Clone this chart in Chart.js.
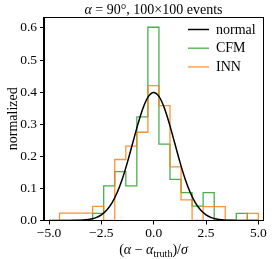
<!DOCTYPE html>
<html><head><meta charset="utf-8">
<script src="https://cdn.jsdelivr.net/npm/chart.js@4/dist/chart.umd.min.js"></script>
<style>html,body{margin:0;padding:0;background:#fff}canvas{display:block}</style>
</head><body>
<canvas id="c" width="274" height="259"></canvas>
<script>
// ---- data ----
const binEdges = [-4.5, -3.972, -3.444, -2.917, -2.389, -1.861, -1.333, -0.806, -0.278, 0.25, 0.778, 1.306, 1.833, 2.361, 2.889, 3.417, 3.944, 4.472, 5.0];
const cfmDensity = [0, 0, 0, 0.022, 0.108, 0.152, 0.108, 0.323, 0.602, 0.238, 0.128, 0.087, 0.045, 0.087, 0, 0, 0.022, 0];
const innDensity = [0.023, 0.023, 0.023, 0.044, 0, 0.190, 0.232, 0.275, 0.420, 0.358, 0.167, 0.064, 0, 0.043, 0.043, 0, 0, 0.022];
const normalX = [-5, -4.75, -4.5, -4.25, -4, -3.75, -3.5, -3.25, -3, -2.75, -2.5, -2.25, -2, -1.75, -1.5, -1.25, -1, -0.75, -0.5, -0.25, 0, 0.25, 0.5, 0.75, 1, 1.25, 1.5, 1.75, 2, 2.25, 2.5, 2.75, 3, 3.25, 3.5, 3.75, 4, 4.25, 4.5, 4.75, 5];
const normalY = [0, 0, 0, 0, 0.0001, 0.0004, 0.0009, 0.0020, 0.0044, 0.0091, 0.0175, 0.0317, 0.0540, 0.0863, 0.1295, 0.1826, 0.2420, 0.3011, 0.3521, 0.3867, 0.3989, 0.3867, 0.3521, 0.3011, 0.2420, 0.1826, 0.1295, 0.0863, 0.0540, 0.0317, 0.0175, 0.0091, 0.0044, 0.0020, 0.0009, 0.0004, 0.0001, 0, 0, 0, 0];
const xTicks = [-5, -2.5, 0, 2.5, 5];
const yTicks = [0, 0.1, 0.2, 0.3, 0.4, 0.5, 0.6];
const seriesLabels = ['normal', 'CFM', 'INN'];

// ---- styles ----
const FONT = "'Liberation Serif','DejaVu Serif',serif";
const FS = 14;      // titles / legend
const TFS = 13.5;   // tick labels
const COLORS = { normal: '#000000', CFM: 'rgba(44,160,44,0.85)', INN: 'rgba(255,127,14,0.85)' };

function histPoints(vals) {
  const pts = [{ x: binEdges[0], y: 0 }];
  vals.forEach((v, i) => pts.push({ x: binEdges[i + 1], y: v }));
  pts.push({ x: binEdges[binEdges.length - 1], y: 0 });
  return pts;
}
function fmt(v) { return (v < 0 ? '\u2212' : '') + Math.abs(v).toFixed(1); }

function drawRich(ctx, segs, x, y, size) {
  const fontFor = (s) => (s.it ? 'italic ' : '') + (s.sub ? size * 0.72 : size) + 'px ' + FONT;
  let total = 0;
  segs.forEach(s => { ctx.font = fontFor(s); total += ctx.measureText(s.t).width; });
  let cx = x - total / 2;
  ctx.textBaseline = 'alphabetic';
  ctx.textAlign = 'left';
  segs.forEach(s => {
    ctx.font = fontFor(s);
    ctx.fillText(s.t, cx, y + (s.sub ? size * 0.22 : 0));
    cx += ctx.measureText(s.t).width;
  });
}

const decorPlugin = {
  id: 'decor',
  afterDraw(chart) {
    const ctx = chart.ctx;
    const a = chart.chartArea;
    ctx.save();
    // frame (all four spines)
    ctx.strokeStyle = '#000';
    ctx.lineWidth = 1;
    ctx.strokeRect(Math.round(a.left) + 0.5 - 1, Math.round(a.top) + 0.5, Math.round(a.right) - Math.round(a.left) + 1, Math.round(a.bottom) - Math.round(a.top) - 1);
    ctx.fillStyle = '#000';
    // title
    drawRich(ctx, [
      { t: 'α', it: true }, { t: ' = 90°, 100×100 events' }
    ], (a.left + a.right) / 2, 14, FS);
    // x axis title
    drawRich(ctx, [
      { t: '(' }, { t: 'α', it: true }, { t: ' − ' }, { t: 'α', it: true }, { t: 'truth', sub: true }, { t: ')/' }, { t: 'σ', it: true }
    ], (a.left + a.right) / 2, 253.5, FS);
    // y axis title
    ctx.save();
    ctx.translate(13, (a.top + a.bottom) / 2);
    ctx.rotate(-Math.PI / 2);
    ctx.font = FS + 'px ' + FONT;
    ctx.textAlign = 'center';
    ctx.textBaseline = 'middle';
    ctx.fillText('normalized', 0, 0);
    ctx.restore();
    // legend
    const widths = { normal: 1.5, CFM: 1.3, INN: 1.3 };
    seriesLabels.forEach((lab, i) => {
      const y = a.top + 12.5 + i * 18.7;
      ctx.strokeStyle = COLORS[lab];
      ctx.lineWidth = widths[lab];
      ctx.beginPath();
      ctx.moveTo(a.right - 75, y);
      ctx.lineTo(a.right - 54, y);
      ctx.stroke();
      ctx.fillStyle = '#000';
      ctx.font = FS + 'px ' + FONT;
      ctx.textAlign = 'left';
      ctx.textBaseline = 'middle';
      ctx.fillText(lab, a.right - 47, y + 0.5);
    });
    ctx.restore();
  }
};

Chart.defaults.font.family = FONT;
Chart.defaults.font.size = TFS;
Chart.defaults.color = '#000';

new Chart(document.getElementById('c').getContext('2d'), {
  type: 'line',
  data: {
    datasets: [
      { label: 'normal', data: normalX.map((x, i) => ({ x, y: normalY[i] })), borderColor: COLORS.normal, borderWidth: 1.5, pointRadius: 0, cubicInterpolationMode: 'monotone', fill: false, order: 0 },
      { label: 'INN', data: histPoints(innDensity), stepped: 'after', borderColor: COLORS.INN, borderWidth: 1.3, pointRadius: 0, fill: false, order: 1 },
      { label: 'CFM', data: histPoints(cfmDensity), stepped: 'after', borderColor: COLORS.CFM, borderWidth: 1.3, pointRadius: 0, fill: false, order: 2 }
    ]
  },
  options: {
    responsive: false,
    animation: false,
    events: [],
    layout: { padding: { left: 0, right: 11, top: 17, bottom: 0 } },
    plugins: { legend: { display: false }, tooltip: { enabled: false }, title: { display: false } },
    scales: {
      x: {
        type: 'linear', min: -5.24, max: 5.22,
        afterBuildTicks: s => { s.ticks = xTicks.map(v => ({ value: v })); },
        afterFit: s => { s.height = 38.5; },
        ticks: { callback: fmt, autoSkip: false, maxRotation: 0, padding: 1, font: { size: TFS } },
        grid: { drawOnChartArea: false, tickLength: 4, tickColor: '#000', tickWidth: 1 },
        border: { color: '#000', width: 1 }
      },
      y: {
        type: 'linear', min: 0, max: 0.634,
        afterBuildTicks: s => { s.ticks = yTicks.map(v => ({ value: v })); },
        afterFit: s => { s.width = 44; },
        ticks: { callback: fmt, padding: 3, font: { size: TFS } },
        grid: { drawOnChartArea: false, tickLength: 4, tickColor: '#000', tickWidth: 1 },
        border: { color: '#000', width: 1 }
      }
    }
  },
  plugins: [decorPlugin]
});
</script>
</body></html>
